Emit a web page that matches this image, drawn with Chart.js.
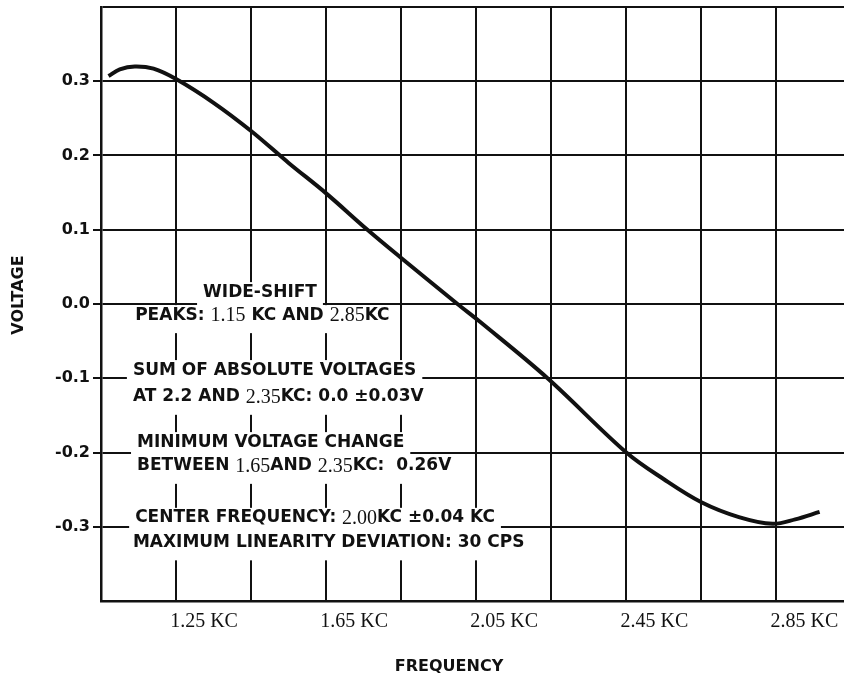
<!DOCTYPE html>
<html>
<head>
<meta charset="utf-8">
<script src="https://cdn.jsdelivr.net/npm/chart.js@4"></script>
<style>
  html, body { margin: 0; padding: 0; background: #fff; }
</style>
</head>
<body>
<canvas id="myChart" width="844" height="680"></canvas>
<script>
// curva (KC, voltios)
const frecuencias = [1.07, 1.10, 1.14, 1.19, 1.25, 1.35, 1.45, 1.55, 1.65, 1.76, 1.85, 2.00, 2.06, 2.24, 2.45, 2.55, 2.65, 2.75, 2.84, 2.90, 2.965];
const voltajes = [0.307, 0.316, 0.320, 0.317, 0.303, 0.271, 0.233, 0.190, 0.149, 0.100, 0.062, 0.000, -0.024, -0.100, -0.200, -0.236, -0.267, -0.287, -0.296, -0.290, -0.280];

// lineas de la grilla y etiquetas
const gridFrecuencias = [1.25, 1.45, 1.65, 1.85, 2.05, 2.25, 2.45, 2.65, 2.85];
const ticksFrecuencia = [1.25, 1.65, 2.05, 2.45, 2.85];
const etiquetasFrecuencia = ['1.25 KC', '1.65 KC', '2.05 KC', '2.45 KC', '2.85 KC'];
const gridVoltajes = [-0.4, -0.3, -0.2, -0.1, 0, 0.1, 0.2, 0.3, 0.4];
const ticksVoltaje = [-0.3, -0.2, -0.1, 0, 0.1, 0.2, 0.3];
const etiquetasVoltaje = ['-0.3', '-0.2', '-0.1', '0.0', '0.1', '0.2', '0.3'];

const TINTA = '#111';
const SANS = 'bold 17px "DejaVu Sans"';
const SERIF = '20px "Liberation Serif"';

// notas dentro del grafico, ancladas en coordenadas de datos
const S = 'sans', R = 'serif';
const notas = [
  { f: 1.322, v: 0.016, partes: [['WIDE-SHIFT', S]] },
  { f: 1.141, v: -0.015, partes: [['PEAKS: ', S], ['1.15', R], [' KC AND ', S], ['2.85', R], ['KC', S]] },
  { f: 1.135, v: -0.089, partes: [['SUM OF ABSOLUTE VOLTAGES', S]] },
  { f: 1.135, v: -0.125, partes: [['AT 2.2 AND ', S], ['2.35', R], ['KC: 0.0 \u00b10.03V', S]] },
  { f: 1.146, v: -0.186, partes: [['MINIMUM VOLTAGE CHANGE', S]] },
  { f: 1.146, v: -0.218, partes: [['BETWEEN ', S], ['1.65', R], ['AND ', S], ['2.35', R], ['KC:  0.26V', S]] },
  { f: 1.141, v: -0.288, partes: [['CENTER FREQUENCY: ', S], ['2.00', R], ['KC \u00b10.04 KC', S]] },
  { f: 1.135, v: -0.321, partes: [['MAXIMUM LINEARITY DEVIATION: 30 CPS', S]] }
];

function buscarEtiqueta(valores, etiquetas, value) {
  const i = valores.findIndex(v => Math.abs(v - value) < 1e-6);
  return i >= 0 ? etiquetas[i] : '';
}

const notasPlugin = {
  id: 'notas',
  beforeDatasetsDraw(chart) {
    const ctx = chart.ctx;
    const xs = chart.scales.x, ys = chart.scales.y;
    ctx.save();
    ctx.textBaseline = 'middle';
    ctx.textAlign = 'left';
    notas.forEach(nota => {
      const x0 = xs.getPixelForValue(nota.f);
      const y = ys.getPixelForValue(nota.v);
      let ancho = 0;
      nota.partes.forEach(p => {
        ctx.font = p[1] === S ? SANS : SERIF;
        ancho += ctx.measureText(p[0]).width;
      });
      // fondo blanco que corta la grilla detras del texto
      ctx.fillStyle = '#fff';
      ctx.fillRect(x0 - 6, y - 10, ancho + 12, 28);
      ctx.fillStyle = TINTA;
      let x = x0;
      nota.partes.forEach(p => {
        ctx.font = p[1] === S ? SANS : SERIF;
        ctx.fillText(p[0], x, y + (p[1] === R ? 1 : 0));
        x += ctx.measureText(p[0]).width;
      });
    });
    ctx.restore();
  },
  afterDraw(chart) {
    const ctx = chart.ctx;
    ctx.save();
    ctx.fillStyle = TINTA;
    ctx.font = 'bold 16px "DejaVu Sans"';
    ctx.textAlign = 'center';
    ctx.textBaseline = 'middle';
    ctx.fillText('FREQUENCY', 449, 667);
    ctx.translate(19, 295);
    ctx.rotate(-Math.PI / 2);
    ctx.fillText('VOLTAGE', 0, 0);
    ctx.restore();
  }
};

const ctx = document.getElementById('myChart').getContext('2d');

const myChart = new Chart(ctx, {
  type: 'line',
  data: {
    datasets: [{
      data: frecuencias.map((f, i) => ({ x: f, y: voltajes[i] })),
      borderColor: TINTA,
      borderWidth: 4,
      pointRadius: 0,
      fill: false,
      tension: 0.35
    }]
  },
  options: {
    responsive: false,
    animation: false,
    layout: { padding: { top: 7, right: 0, bottom: 0, left: 0 } },
    plugins: { legend: { display: false }, tooltip: { enabled: false } },
    scales: {
      x: {
        type: 'linear',
        min: 1.05,
        max: 3.03,
        afterBuildTicks: s => { s.ticks = gridFrecuencias.map(v => ({ value: v })); },
        afterFit: s => { s.height = 79; s.paddingLeft = 0; s.paddingRight = 0; },
        grid: { color: TINTA, lineWidth: 2, drawTicks: false },
        border: { color: TINTA, width: 2.5 },
        ticks: {
          autoSkip: false,
          maxRotation: 0,
          padding: 9,
          labelOffset: 28,
          color: TINTA,
          font: { family: 'Liberation Serif', size: 20 },
          callback: value => buscarEtiqueta(ticksFrecuencia, etiquetasFrecuencia, value)
        }
      },
      y: {
        min: -0.4,
        max: 0.4,
        afterBuildTicks: s => { s.ticks = gridVoltajes.map(v => ({ value: v })); },
        afterFit: s => { s.width = 101; s.paddingTop = 0; s.paddingBottom = 0; },
        grid: {
          color: TINTA,
          lineWidth: 2,
          tickLength: 8,
          tickColor: c => buscarEtiqueta(ticksVoltaje, etiquetasVoltaje, c.tick.value) ? TINTA : 'rgba(0,0,0,0)'
        },
        border: { color: TINTA, width: 2.5 },
        ticks: {
          padding: 3,
          color: TINTA,
          font: { family: 'DejaVu Sans', size: 16, weight: 'bold' },
          callback: value => buscarEtiqueta(ticksVoltaje, etiquetasVoltaje, value)
        }
      }
    }
  },
  plugins: [notasPlugin]
});
</script>
</body>
</html>
